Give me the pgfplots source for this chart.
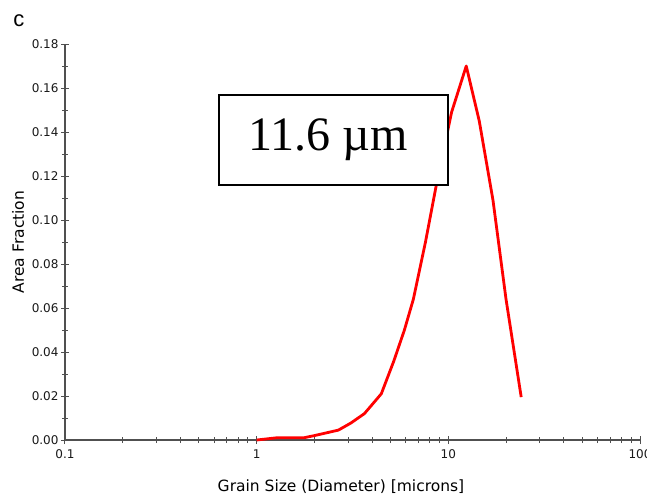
\documentclass[border=0pt]{standalone}
\usepackage{fontspec}
\setmainfont{DejaVu Sans}
\newfontfamily\serifbox{Liberation Serif}
\newfontfamily\arialf{Liberation Sans}
\usepackage{pgfplots}
\pgfplotsset{compat=1.18}
\definecolor{axgray}{HTML}{505050}
\begin{document}
\begin{tikzpicture}
\begin{axis}[
  at={(0pt,0pt)}, anchor=south west,
  scale only axis, width=575pt, height=396pt,
  xmode=log, xmin=0.1, xmax=100,
  ymin=0, ymax=0.18,
  axis lines*=left,
  axis line style={axgray, line width=1.3pt, -},
  every tick/.style={axgray, line width=1pt},
  tick align=center,
  major tick length=8pt, minor tick length=6pt,
  xtick={0.1,1,10,100}, xticklabels={0.1,1,10,100},
  ytick={0,0.02,...,0.18},
  minor y tick num=1,
  y tick label style={/pgf/number format/fixed, /pgf/number format/fixed zerofill, /pgf/number format/precision=2, xshift=1pt},
  /pgf/number format/assume math mode=true,
  ticklabel style={font=\fontsize{12}{14}\selectfont, text=black!90},
  x tick label style={yshift=-2pt},
  xlabel={Grain Size (Diameter) [microns]},
  ylabel={Area Fraction},
  label style={font=\fontsize{15.5}{18}\selectfont},
  xlabel style={at={(axis description cs:0.48,0)}, anchor=center, yshift=-47pt},
  ylabel style={at={(axis description cs:0,0.5)}, anchor=center, yshift=47pt},
  clip=false,
]
\addplot[red, line width=2.8pt, line join=round] coordinates {
  (1.0,0.0) (1.27,0.001) (1.76,0.001) (2.0,0.002) (2.67,0.0045)
  (3.1,0.0077) (3.65,0.012) (4.47,0.021) (5.2,0.036) (5.9,0.05)
  (6.57,0.064) (7.6,0.09) (8.66,0.116) (10.4,0.149) (12.4,0.17)
  (14.5,0.145) (17.1,0.109) (20.0,0.064) (24.0,0.0195)
};
\draw[black, line width=2pt, fill=white] (axis cs:0.634,0.116) rectangle (axis cs:10.0,0.157);
\node[font=\serifbox\fontsize{48}{52}\selectfont, anchor=center] at (axis cs:2.35,0.1365) {11.6 µm};
\end{axis}
\node[font=\arialf\fontsize{22}{24}\selectfont, anchor=center] at (-46pt,419pt) {c};
\pgfresetboundingbox
\useasboundingbox (-65pt,-59pt) rectangle (582pt,440pt);
\end{tikzpicture}
\end{document}
